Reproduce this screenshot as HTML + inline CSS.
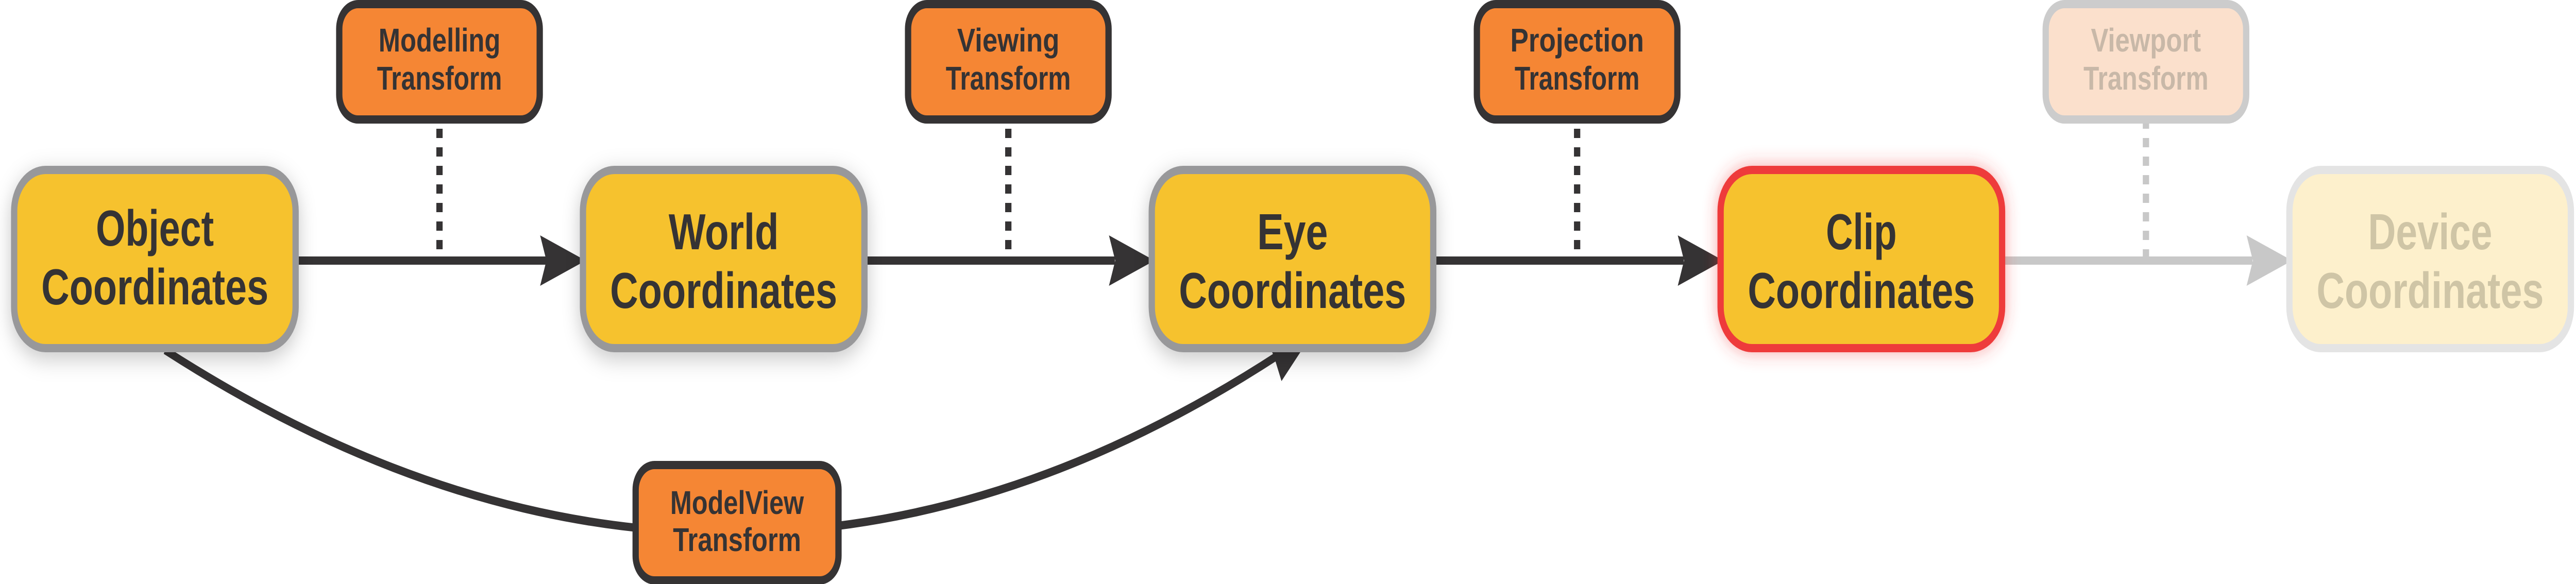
<!DOCTYPE html>
<html><head><meta charset="utf-8"><style>
html,body{margin:0;padding:0;background:#fff;width:100%;height:100%;overflow:hidden;}
svg{display:block;width:100vw;height:100vh;}
text{font-family:"Liberation Sans Narrow","Liberation Sans",sans-serif;font-weight:bold;text-anchor:middle;}
</style></head><body>
<svg viewBox="0 0 6553 1134" preserveAspectRatio="none" xmlns="http://www.w3.org/2000/svg">
<defs>
<filter id="sh" x="-20%" y="-20%" width="140%" height="140%"><feDropShadow dx="0" dy="12" stdDeviation="22" flood-color="#000" flood-opacity="0.22"/></filter>
<filter id="glow" x="-20%" y="-20%" width="140%" height="140%"><feDropShadow dx="0" dy="0" stdDeviation="18" flood-color="#f03a3a" flood-opacity="0.45"/></filter>
</defs>

<path d="M420 680 Q1855 1385 3255 688" fill="none" stroke="#353334" stroke-width="16"/>
<polygon points="3342,644 3215,651 3240,690 3260,740" fill="#353334"/>

<g fill="#353334">
<rect x="760" y="498" width="630" height="16"/>
<polygon points="1490,506 1374,457 1390,506 1374,555"/>
<rect x="2196" y="498" width="640" height="16"/>
<polygon points="2937,506 2821,457 2837,506 2821,555"/>
<rect x="3643" y="498" width="640" height="16"/>
<polygon points="4384,506 4268,457 4284,506 4268,555"/>
</g>
<g fill="#c8c8c8">
<rect x="5090" y="498" width="640" height="16"/>
<polygon points="5831,506 5715,457 5731,506 5715,555"/>
</g>

<g stroke-width="16" stroke-dasharray="18 18" fill="none">
<line x1="1118" y1="250" x2="1118" y2="500" stroke="#353334"/>
<line x1="2565" y1="250" x2="2565" y2="500" stroke="#353334"/>
<line x1="4012" y1="250" x2="4012" y2="500" stroke="#353334"/>
<line x1="5459" y1="232" x2="5459" y2="500" stroke="#c8c8c8"/>
</g>

<g stroke-width="16">
<rect x="36" y="330" width="716" height="346" rx="80" fill="#f6c22d" stroke="#98989a" filter="url(#sh)"/>
<rect x="1483" y="330" width="716" height="346" rx="80" fill="#f6c22d" stroke="#98989a" filter="url(#sh)"/>
<rect x="2930" y="330" width="716" height="346" rx="80" fill="#f6c22d" stroke="#98989a" filter="url(#sh)"/>
<rect x="4377" y="330" width="716" height="346" rx="80" fill="#f6c22d" stroke="#ee3a3b" filter="url(#glow)"/>
<rect x="5824" y="330" width="716" height="346" rx="80" fill="#fdf0cc" stroke="#e4e4e4"/>
</g>
<g font-size="98" fill="#353334">
<text x="394" y="477" textLength="300" lengthAdjust="spacingAndGlyphs">Object</text>
<text x="394" y="591" textLength="578" lengthAdjust="spacingAndGlyphs">Coordinates</text>
<text x="1841" y="484" textLength="280" lengthAdjust="spacingAndGlyphs">World</text>
<text x="1841" y="598" textLength="578" lengthAdjust="spacingAndGlyphs">Coordinates</text>
<text x="3288" y="484" textLength="180" lengthAdjust="spacingAndGlyphs">Eye</text>
<text x="3288" y="598" textLength="578" lengthAdjust="spacingAndGlyphs">Coordinates</text>
<text x="4735" y="484" textLength="180" lengthAdjust="spacingAndGlyphs">Clip</text>
<text x="4735" y="598" textLength="578" lengthAdjust="spacingAndGlyphs">Coordinates</text>
<text x="6182" y="484" textLength="316" lengthAdjust="spacingAndGlyphs" fill="#cfc5a6">Device</text>
<text x="6182" y="598" textLength="578" lengthAdjust="spacingAndGlyphs" fill="#cfc5a6">Coordinates</text>
</g>

<g stroke-width="16">
<rect x="863" y="8" width="510" height="224" rx="48" fill="#f58634" stroke="#353334"/>
<rect x="2310" y="8" width="510" height="224" rx="48" fill="#f58634" stroke="#353334"/>
<rect x="3757" y="8" width="510" height="224" rx="48" fill="#f58634" stroke="#353334"/>
<rect x="5204" y="8" width="510" height="224" rx="48" fill="#fbe0cc" stroke="#cccccc"/>
<rect x="1617" y="903" width="516" height="224" rx="48" fill="#f58634" stroke="#353334"/>
</g>
<g font-size="64" fill="#353334">
<text x="1118" y="100" textLength="310" lengthAdjust="spacingAndGlyphs">Modelling</text>
<text x="1118" y="174" textLength="318" lengthAdjust="spacingAndGlyphs">Transform</text>
<text x="2565" y="100" textLength="260" lengthAdjust="spacingAndGlyphs">Viewing</text>
<text x="2565" y="174" textLength="318" lengthAdjust="spacingAndGlyphs">Transform</text>
<text x="4012" y="100" textLength="340" lengthAdjust="spacingAndGlyphs">Projection</text>
<text x="4012" y="174" textLength="318" lengthAdjust="spacingAndGlyphs">Transform</text>
<text x="5459" y="100" textLength="280" lengthAdjust="spacingAndGlyphs" fill="#c8b8a8">Viewport</text>
<text x="5459" y="174" textLength="318" lengthAdjust="spacingAndGlyphs" fill="#c8b8a8">Transform</text>
<text x="1875" y="998" textLength="340" lengthAdjust="spacingAndGlyphs">ModelView</text>
<text x="1875" y="1070" textLength="326" lengthAdjust="spacingAndGlyphs">Transform</text>
</g>
</svg>
</body></html>
